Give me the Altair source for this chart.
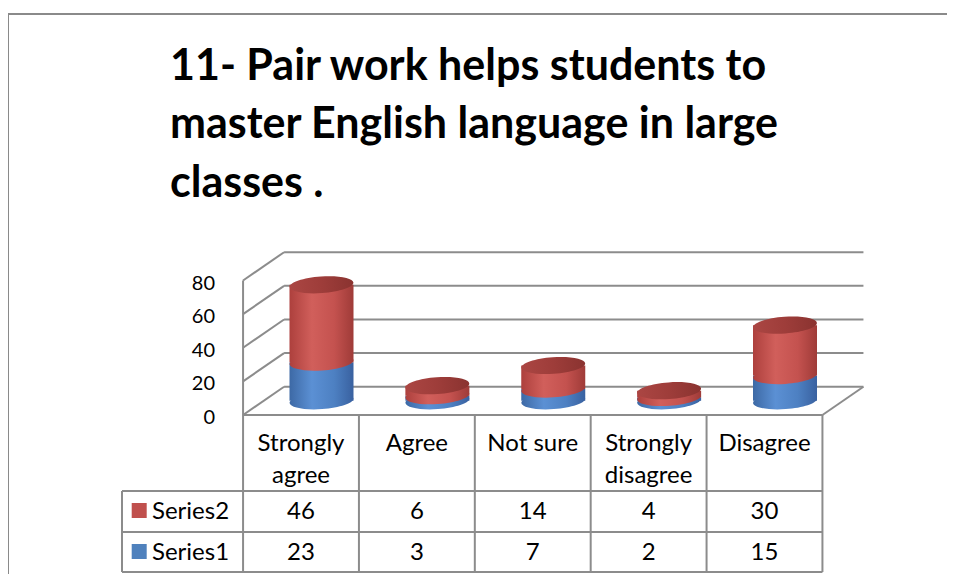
import altair as alt
import pandas as pd

# ---------------- data ----------------
categories = ["Strongly agree", "Agree", "Not sure", "Strongly disagree", "Disagree"]
header_labels = ["Strongly\nagree", "Agree", "Not sure", "Strongly\ndisagree", "Disagree"]
series1 = [23, 3, 7, 2, 15]
series2 = [46, 6, 14, 4, 30]
series_names = ["Series2", "Series1"]
y_ticks = [0, 20, 40, 60, 80]
title_lines = ["11- Pair work helps students to",
               "master English language in large",
               "classes ."]

# ---------------- layout / style ----------------
W, H = 939, 566
X = alt.Scale(domain=[0, 4], range=[288, 761.5])
Y = alt.Scale(domain=[0, 80], range=[407, 272.5], zero=False, nice=False)
DX_BACK, DY_BACK = 41, -28.3
DX_MID, DY_MID = 20.5, -14.2
GRID = "#8c8c8c"
FONT = "Lato"
TFS = 24
BW = 64
ELL = "M -1 0 A 1 0.26 0 1 1 1 0 A 1 0.26 0 1 1 -1 0 Z"


def grad(stops):
    return {"gradient": "linear", "x1": 0, "x2": 1, "y1": 0, "y2": 0,
            "stops": [{"offset": o, "color": c} for o, c in stops]}


BLUE_G = grad([(0, "#3d69a5"), (0.35, "#5b90d4"), (0.7, "#4d80c2"), (1, "#3961a0")])
RED_G = grad([(0, "#ad403d"), (0.35, "#d15f5b"), (0.7, "#c4524f"), (1, "#9f3b38")])
TOP_G = grad([(0, "#ab4643"), (0.5, "#9e3d3a"), (1, "#8a3330")])
RED, BLUE = "#c0504d", "#4f81bd"

idx = list(range(len(categories)))
bars = pd.DataFrame({"i": idx, "cat": categories, "s1": series1, "s2": series2})
bars["zero"] = 0
bars["top1"] = bars["s1"]
bars["top2"] = bars["s1"] + bars["s2"]
bars["label"] = header_labels

ticks = pd.DataFrame({"v": y_ticks})
ticks["xl"] = -0.5
ticks["xr"] = len(categories) - 0.5

bounds = pd.DataFrame({"b": [k - 0.5 for k in range(len(categories) + 1)]})
one = pd.DataFrame({"k": [0]})

xi = alt.X("i:Q", scale=X, axis=None)
layers = []

# chart frame
layers.append(alt.Chart(one).mark_rule(color="#8a8a8a", strokeWidth=2).encode(
    x=alt.value(0), x2=alt.value(W), y=alt.value(6)))
layers.append(alt.Chart(one).mark_rule(color="#8a8a8a", strokeWidth=2).encode(
    x=alt.value(0), y=alt.value(6), y2=alt.value(H)))

# title
layers.append(alt.Chart(pd.DataFrame({"t": ["\n".join(title_lines)]})).mark_text(
    align="left", baseline="alphabetic", font=FONT, fontSize=43, fontWeight="bold",
    lineBreak="\n", lineHeight=58.3, color="black").encode(
    x=alt.value(162), y=alt.value(72), text="t:N"))

# back wall gridlines
layers.append(alt.Chart(ticks).mark_rule(
    color=GRID, strokeWidth=2, xOffset=DX_BACK, x2Offset=DX_BACK, yOffset=DY_BACK).encode(
    x=alt.X("xl:Q", scale=X, axis=None), x2="xr:Q",
    y=alt.Y("v:Q", scale=Y, axis=None)))
# left wall diagonals
layers.append(alt.Chart(ticks).mark_rule(
    color=GRID, strokeWidth=2, x2Offset=DX_BACK, y2Offset=DY_BACK).encode(
    x=alt.X("xl:Q", scale=X, axis=None), x2="xl:Q",
    y=alt.Y("v:Q", scale=Y, axis=None), y2="v:Q"))
# left wall front edge
layers.append(alt.Chart(pd.DataFrame({"xl": [-0.5], "v0": [y_ticks[0]], "v1": [y_ticks[-1]]})).mark_rule(
    color=GRID, strokeWidth=2).encode(
    x=alt.X("xl:Q", scale=X, axis=None),
    y=alt.Y("v0:Q", scale=Y, axis=None), y2="v1:Q"))
# floor right edge
layers.append(alt.Chart(pd.DataFrame({"xr": [len(categories) - 0.5], "v0": [0]})).mark_rule(
    color=GRID, strokeWidth=2, x2Offset=DX_BACK, y2Offset=DY_BACK).encode(
    x=alt.X("xr:Q", scale=X, axis=None), x2="xr:Q",
    y=alt.Y("v0:Q", scale=Y, axis=None), y2="v0:Q"))

# cylinders
pt = dict(shape=ELL, size=BW * BW, filled=True, opacity=1, strokeWidth=0,
          xOffset=DX_MID, yOffset=DY_MID, angle=356)
layers.append(alt.Chart(bars).mark_point(color=BLUE_G, **pt).encode(
    x=xi, y=alt.Y("zero:Q", scale=Y, axis=None)))
layers.append(alt.Chart(bars).mark_bar(
    width=BW, color=BLUE_G, xOffset=DX_MID, yOffset=DY_MID, y2Offset=DY_MID).encode(
    x=xi, y=alt.Y("zero:Q", scale=Y, axis=None), y2="top1:Q"))
layers.append(alt.Chart(bars).mark_point(color=RED_G, **pt).encode(
    x=xi, y=alt.Y("top1:Q", scale=Y, axis=None)))
layers.append(alt.Chart(bars).mark_bar(
    width=BW, color=RED_G, xOffset=DX_MID, yOffset=DY_MID, y2Offset=DY_MID).encode(
    x=xi, y=alt.Y("top1:Q", scale=Y, axis=None), y2="top2:Q"))
layers.append(alt.Chart(bars).mark_point(color=TOP_G, **pt).encode(
    x=xi, y=alt.Y("top2:Q", scale=Y, axis=None)))

# y labels
layers.append(alt.Chart(ticks).mark_text(
    align="right", baseline="middle", dy=3, font=FONT, fontSize=20, color="black").encode(
    x=alt.value(207), y=alt.Y("v:Q", scale=Y, axis=None), text="v:Q"))

# data table grid
layers.append(alt.Chart(pd.DataFrame({"xl": [-0.5], "xr": [len(categories) - 0.5], "v0": [0]})).mark_rule(
    color=GRID, strokeWidth=2).encode(
    x=alt.X("xl:Q", scale=X, axis=None), x2="xr:Q", y=alt.Y("v0:Q", scale=Y, axis=None)))
for ry in [483, 524, 564]:
    layers.append(alt.Chart(pd.DataFrame({"xr": [len(categories) - 0.5]})).mark_rule(
        color=GRID, strokeWidth=2).encode(
        x=alt.X("xr:Q", scale=X, axis=None), x2=alt.value(114), y=alt.value(ry)))
layers.append(alt.Chart(bounds).mark_rule(color=GRID, strokeWidth=2).encode(
    x=alt.X("b:Q", scale=X, axis=None), y=alt.value(407), y2=alt.value(564)))
layers.append(alt.Chart(one).mark_rule(color=GRID, strokeWidth=2).encode(
    x=alt.value(114), y=alt.value(483), y2=alt.value(564)))

# header labels
layers.append(alt.Chart(bars).mark_text(
    align="center", baseline="alphabetic", font=FONT, fontSize=TFS, lineBreak="\n",
    lineHeight=32.3, color="black").encode(x=xi, y=alt.value(443), text="label:N"))

# values
layers.append(alt.Chart(bars).mark_text(
    align="center", baseline="alphabetic", font=FONT, fontSize=TFS, color="black").encode(
    x=xi, y=alt.value(511.3), text="s2:Q"))
layers.append(alt.Chart(bars).mark_text(
    align="center", baseline="alphabetic", font=FONT, fontSize=TFS, color="black").encode(
    x=xi, y=alt.value(552), text="s1:Q"))

# legend keys
for name, col, sy, ty in [(series_names[0], RED, 502.5, 511.3), (series_names[1], BLUE, 543.5, 552)]:
    d = pd.DataFrame({"name": [name]})
    layers.append(alt.Chart(d).mark_square(size=225, color=col, opacity=1, strokeWidth=0).encode(
        x=alt.value(131.2), y=alt.value(sy)))
    layers.append(alt.Chart(d).mark_text(
        align="left", baseline="alphabetic", font=FONT, fontSize=TFS, color="black").encode(
        x=alt.value(144), y=alt.value(ty), text="name:N"))

chart = alt.layer(*layers).properties(
    width=W, height=H, padding=0, background="white",
    autosize=alt.AutoSizeParams(type="none")
).configure_view(stroke=None)

chart.save("out.html", embed_options={"renderer": "svg", "actions": False})
